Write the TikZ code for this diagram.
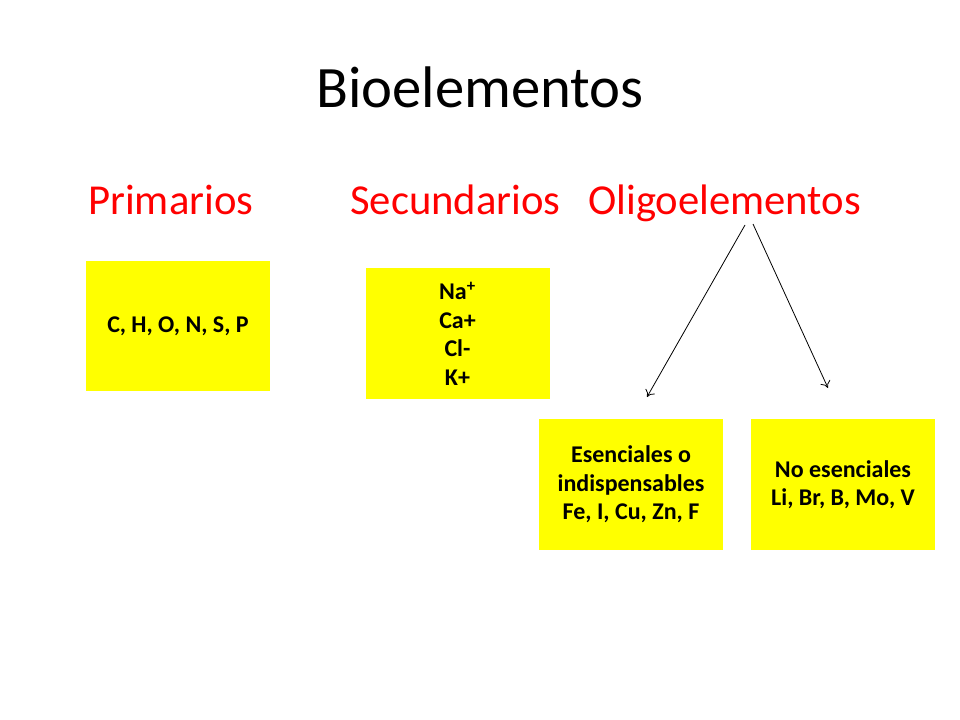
\documentclass[tikz,border=0pt]{standalone}
\usepackage{fontspec}
\setmainfont{Carlito}
\usetikzlibrary{calc, positioning, arrows.meta}
\definecolor{boxyellow}{RGB}{255,255,0}
\definecolor{catred}{RGB}{255,0,0}

\begin{document}
\begin{tikzpicture}[x=0.75pt, y=-0.75pt, box/.style={fill=boxyellow, inner sep=0pt, minimum width=138pt, minimum height=98pt, align=center, font=\fontsize{18}{21.4}\selectfont\bfseries},cat/.style={text=catred, inner sep=0pt, anchor=base west, font=\fontsize{32}{38}\selectfont}]
  \useasboundingbox (0,0) rectangle (960,720);

  \node[anchor=base, inner sep=0pt, font=\fontsize{44}{53}\selectfont] (title) at (480,108) {Bioelementos};

  \node[cat] (prim) at (88,215) {Primarios};
  \node[cat] (sec) at (350,215) {Secundarios};
  \node[cat] (oli) at (588,215) {Oligoelementos};

  \node[box] (bprim) at (178,326) {C, H, O, N, S, P};
  \node[box] (bsec) at (457.5,333.5) {Na\textsuperscript{+}\\Ca+\\Cl-\\K+};
  \node[box] (bes) at (631,484.5) {Esenciales o\\indispensables\\Fe, I, Cu, Zn, F};
  \node[box] (bno) at (843,484.5) {No esenciales\\Li, Br, B, Mo, V};

  \coordinate (oli-l) at (745,225);
  \coordinate (oli-r) at (753,224);
  \coordinate (es-in) at (647,397);
  \coordinate (no-in) at (828,388);
  \draw[-{To[length=5pt, width=8pt]}, line width=0.6pt] (oli-l) -- (es-in);
  \draw[-{To[length=5pt, width=8pt]}, line width=0.6pt] (oli-r) -- (no-in);
 \end{tikzpicture}
\end{document}
